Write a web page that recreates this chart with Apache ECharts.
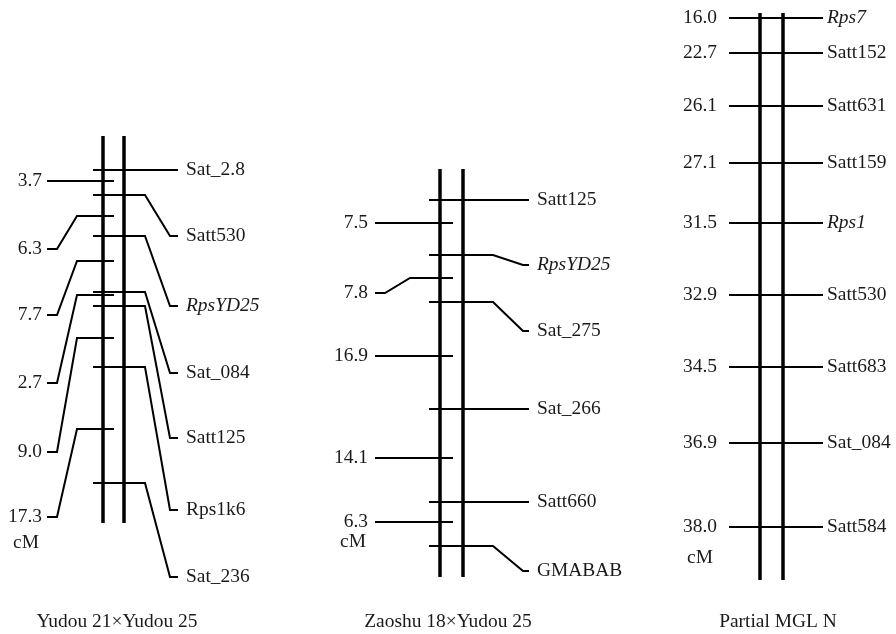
<!DOCTYPE html>
<html>
<head>
<meta charset="utf-8">
<script src="https://cdn.jsdelivr.net/npm/echarts@6/dist/echarts.min.js"></script>
<style>html,body{margin:0;padding:0;background:#fff}#c{width:896px;height:634px}</style>
</head>
<body>
<div id="c"></div>
<script>
// ---------- DATA ----------
// Map 1: Yudou 21 x Yudou 25
const m1Title = 'Yudou 21×Yudou 25';
const m1MarkerNames = ['Sat_2.8','Satt530','RpsYD25','Sat_084','Satt125','Rps1k6','Sat_236'];
const m1MarkerPos = [170,195,236,292,306,367,483];
const m1MarkerLabelPos = [170,236,306,373,438,510,577];
const m1Intervals = ['3.7','6.3','7.7','2.7','9.0','17.3'];
const m1IntervalPos = [181,216,261,295,338,429];
const m1IntervalLabelPos = [181,249,315,383,452,517];

// Map 2: Zaoshu 18 x Yudou 25
const m2Title = 'Zaoshu 18×Yudou 25';
const m2MarkerNames = ['Satt125','RpsYD25','Sat_275','Sat_266','Satt660','GMABAB'];
const m2MarkerPos = [200,255,302,409,502,546];
const m2MarkerLabelPos = [200,265,331,409,502,571];
const m2Intervals = ['7.5','7.8','16.9','14.1','6.3'];
const m2IntervalPos = [223,278,356,458,522];
const m2IntervalLabelPos = [223,293,356,458,522];

// Map 3: Partial MGL N
const m3Title = 'Partial MGL N';
const m3MarkerNames = ['Rps7','Satt152','Satt631','Satt159','Rps1','Satt530','Satt683','Sat_084','Satt584'];
const m3Positions = ['16.0','22.7','26.1','27.1','31.5','32.9','34.5','36.9','38.0'];
const m3MarkerPos = [18,53,106,163,223,295,367,443,527];

const italicNames = ['RpsYD25','Rps7','Rps1'];
const unitLabel = 'cM';

// ---------- LAYOUT ----------
const L1 = {bars:[103,124], top:136, bottom:523, rTickL:93, rElbow:145, rDiag:170, rEnd:178, rText:186,
  lTickR:114, lElbow:77, lDiag:57, lEnd:47, lText:42, cM:[26,543], title:[117,622]};
const L2 = {bars:[440,463], top:169, bottom:577, rTickL:429, rElbow:493, rDiag:523, rEnd:529, rText:537,
  lTickR:453, lElbow:410, lDiag:385, lEnd:375, lText:368, cM:[353,542], title:[448,622]};
const L3 = {bars:[760,783], top:13, bottom:580, tickL:729, tickR:823, rText:827, lText:717, cM:[700,558], title:[778,622]};

const barLines = [], tickLines = [], texts = [];

function addSplitMap(L, names, pos, lpos, ivals, ipos, ilpos, title) {
  L.bars.forEach(x => barLines.push({coords:[[x,L.top],[x,L.bottom]]}));
  names.forEach((n,i) => {
    const p = pos[i], q = lpos[i];
    if (p === q) tickLines.push({coords:[[L.rTickL,p],[L.rEnd,p]]});
    else tickLines.push({coords:[[L.rTickL,p],[L.rElbow,p],[L.rDiag,q],[L.rEnd,q]]});
    texts.push([L.rText, q, n, 'left', italicNames.includes(n) ? 1 : 0]);
  });
  ivals.forEach((v,i) => {
    const p = ipos[i], q = ilpos[i];
    if (p === q) tickLines.push({coords:[[L.lEnd,p],[L.lTickR,p]]});
    else tickLines.push({coords:[[L.lTickR,p],[L.lElbow,p],[L.lDiag,q],[L.lEnd,q]]});
    texts.push([L.lText, q, v, 'right', 0]);
  });
  texts.push([L.cM[0], L.cM[1], unitLabel, 'center', 0]);
  texts.push([L.title[0], L.title[1], title, 'center', 0]);
}
addSplitMap(L1, m1MarkerNames, m1MarkerPos, m1MarkerLabelPos, m1Intervals, m1IntervalPos, m1IntervalLabelPos, m1Title);
addSplitMap(L2, m2MarkerNames, m2MarkerPos, m2MarkerLabelPos, m2Intervals, m2IntervalPos, m2IntervalLabelPos, m2Title);

L3.bars.forEach(x => barLines.push({coords:[[x,L3.top],[x,L3.bottom]]}));
m3MarkerNames.forEach((n,i) => {
  const p = m3MarkerPos[i];
  tickLines.push({coords:[[L3.tickL,p],[L3.tickR,p]]});
  texts.push([L3.rText, p, n, 'left', italicNames.includes(n) ? 1 : 0]);
  texts.push([L3.lText, p, m3Positions[i], 'right', 0]);
});
texts.push([L3.cM[0], L3.cM[1], unitLabel, 'center', 0]);
texts.push([L3.title[0], L3.title[1], m3Title, 'center', 0]);

const FONT = '"Liberation Serif","Times New Roman",serif';
const chart = echarts.init(document.getElementById('c'), null, {renderer:'canvas'});
chart.setOption({
  animation: false,
  backgroundColor: '#fff',
  grid: {left:0, right:0, top:0, bottom:0},
  xAxis: {type:'value', min:0, max:896, show:false},
  yAxis: {type:'value', min:0, max:634, inverse:true, show:false},
  series: [
    {type:'lines', coordinateSystem:'cartesian2d', polyline:true, silent:true,
     lineStyle:{color:'#000', width:3.5, opacity:1, curveness:0}, data: barLines},
    {type:'lines', coordinateSystem:'cartesian2d', polyline:true, silent:true,
     lineStyle:{color:'#000', width:2, opacity:1, curveness:0, join:'miter'}, data: tickLines},
    {type:'custom', coordinateSystem:'cartesian2d', silent:true, data: texts,
     renderItem: function(params, api) {
       const d = texts[params.dataIndex];
       const pt = api.coord([d[0], d[1]]);
       return {type:'text', x:pt[0], y:pt[1], scaleX:1.08,
         style:{text:d[2], fill:'#1a1a1a', align:d[3], verticalAlign:'middle',
           textAlign:d[3], textVerticalAlign:'middle',
           font:(d[4] ? 'italic ' : '') + '18px ' + FONT}};
     }}
  ]
});
</script>
</body>
</html>
